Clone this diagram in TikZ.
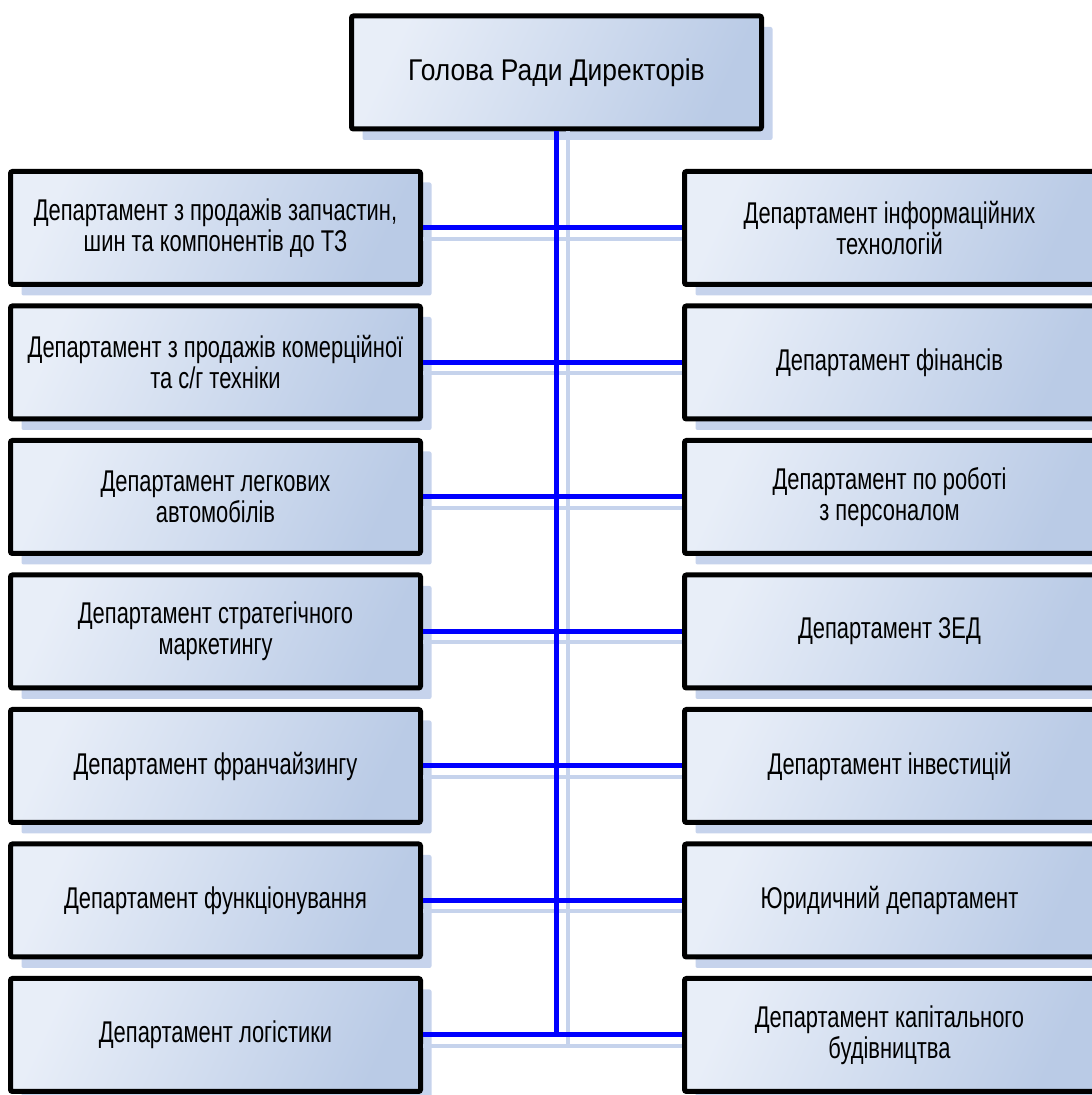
\documentclass[tikz,border=0pt]{standalone}
\usepackage{fontspec}
\setmainfont{Liberation Sans}[FakeStretch=0.73]
\newfontfamily\headfont{Liberation Sans}[FakeStretch=0.88]
\usepackage{tikz}
\usetikzlibrary{positioning,shadows}

\definecolor{boxlight}{RGB}{232,238,248}
\definecolor{boxdark}{RGB}{186,203,230}
\definecolor{shadowblue}{RGB}{198,211,236}
\definecolor{linkblue}{RGB}{0,0,255}

\tikzset{
  dept/.style={draw=black, line width=5pt, rounded corners=2pt,
    minimum width=410pt, minimum height=113pt, align=center,
    left color=boxlight, right color=boxdark, shading angle=65,
    general shadow={fill=shadowblue, shadow xshift=11pt, shadow yshift=-11pt},
    font=\fontsize{30}{31}\selectfont},
  head/.style={dept, font=\headfont\fontsize{30}{31}\selectfont},
  link/.style={draw=linkblue, line width=5pt},
  linkshadow/.style={draw=shadowblue, line width=4pt}
}

\begin{document}
\begin{tikzpicture}[x=1pt, y=1pt, node distance=134.5pt]
    \useasboundingbox (0,0) rectangle (1092,1095);

    % Nodes {top, l1..l7, r1..r7}
    \node [head] (top) at (556.5,1022.5) {Голова Ради Директорів};

    \node [dept] (l1) at (215.5,867) {Департамент з продажів запчастин,\\шин та компонентів до ТЗ};
    \node [dept] (l2) [below of=l1] {Департамент з продажів комерційної\\та с/г техніки};
    \node [dept] (l3) [below of=l2] {Департамент легкових\\автомобілів};
    \node [dept] (l4) [below of=l3] {Департамент стратегічного\\маркетингу};
    \node [dept] (l5) [below of=l4] {Департамент франчайзингу};
    \node [dept] (l6) [below of=l5] {Департамент функціонування};
    \node [dept] (l7) [below of=l6] {Департамент логістики};

    \node [dept] (r1) at (889.5,867) {Департамент інформаційних\\технологій};
    \node [dept] (r2) [below of=r1] {Департамент фінансів};
    \node [dept] (r3) [below of=r2] {Департамент по роботі\\з персоналом};
    \node [dept] (r4) [below of=r3] {Департамент ЗЕД};
    \node [dept] (r5) [below of=r4] {Департамент інвестицій};
    \node [dept] (r6) [below of=r5] {Юридичний департамент};
    \node [dept] (r7) [below of=r6] {Департамент капітального\\будівництва};

    \coordinate (bottom) at (top.south |- l7.east);

    % Paths (shadows first)
    \draw [linkshadow] ([xshift=11pt]top.south) -- ([shift={(11pt,-11pt)}]bottom);
    \foreach \i in {1,...,7}
      \draw [linkshadow] ([yshift=-11pt]l\i.east) -- ([yshift=-11pt]r\i.west);

    \draw [link] (top.south) -- (bottom);
    \foreach \i in {1,...,7}
      \draw [link] (l\i.east) -- (r\i.west);

\end{tikzpicture}
\end{document}
